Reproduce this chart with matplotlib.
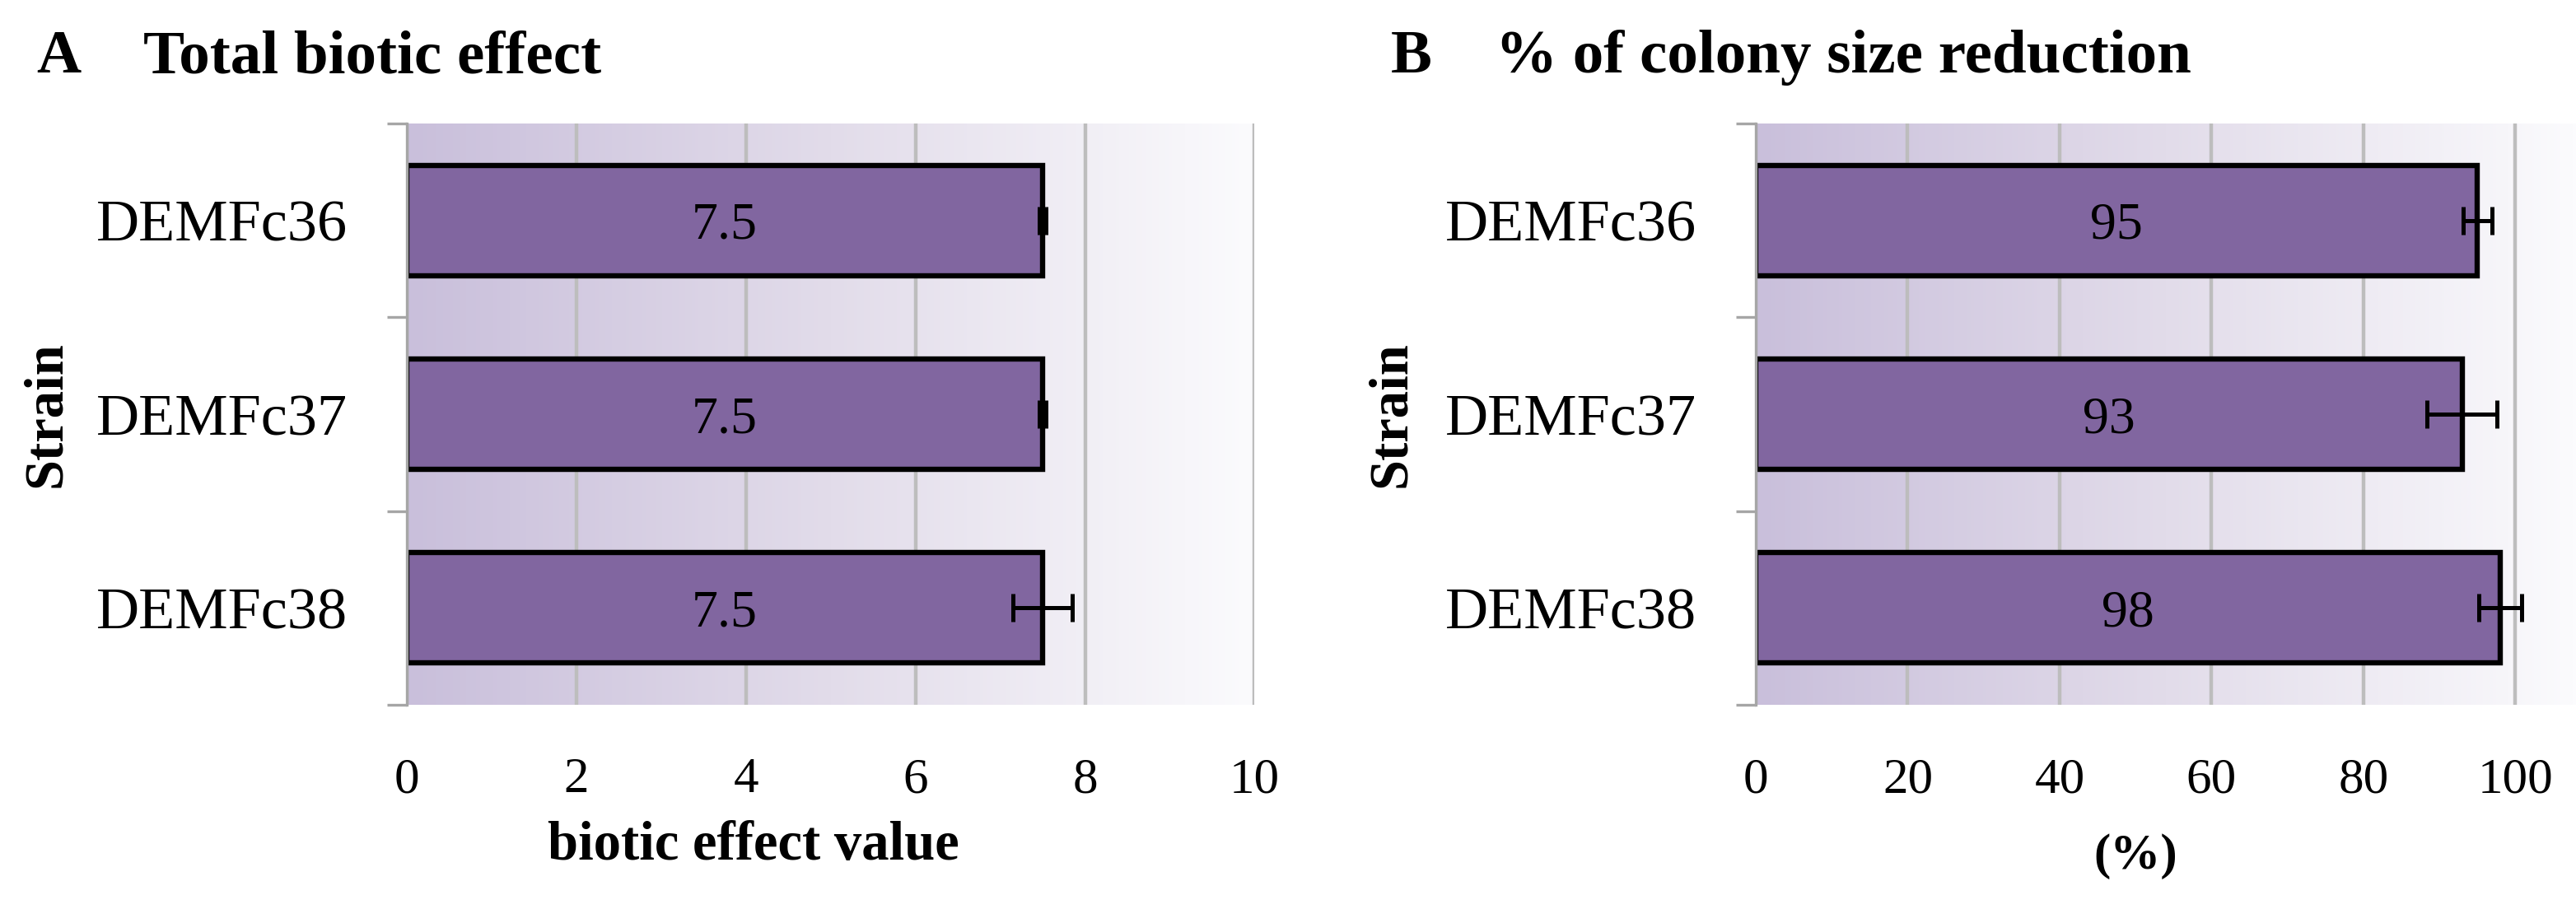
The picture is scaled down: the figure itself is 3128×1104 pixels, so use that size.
import numpy as np
import matplotlib
matplotlib.use("Agg")
import matplotlib.pyplot as plt
from matplotlib.colors import LinearSegmentedColormap

strains = ["DEMFc36", "DEMFc37", "DEMFc38"]
biotic = [7.5, 7.5, 7.5]
biotic_err = [0.04, 0.04, 0.35]
reduction = [95, 93, 98]
reduction_err = [1.9, 4.6, 2.8]

plt.rcParams["font.family"] = ["Liberation Serif", "DejaVu Serif"]

bar_col = "#8166a0"
grid_col = "#bdbdbd"
spine_col = "#a6a6a6"
bg = LinearSegmentedColormap.from_list("bg", ["#c9bfdb", "#e2dcea", "#fbfbfd"])

fig = plt.figure(figsize=(15.64, 5.52), dpi=200)


def panel(ax, vals, errs, xmax, ticks):
    grad = np.linspace(0, 1, 256).reshape(1, -1)
    ax.imshow(grad, extent=[0, xmax, 2.5, -0.5], aspect="auto", cmap=bg, zorder=0)
    y = np.arange(len(strains))
    ax.barh(y, vals, height=0.57, color=bar_col, edgecolor="black", linewidth=2.3, zorder=2)
    ax.errorbar(vals, y, xerr=errs, fmt="none", ecolor="black", elinewidth=1.8,
                capsize=6, capthick=1.8, zorder=3)
    for yi, v in zip(y, vals):
        ax.text(v / 2, yi, f"{v:g}", ha="center", va="center_baseline", fontsize=23, zorder=4)
    ax.set_xlim(0, xmax)
    ax.set_ylim(2.5, -0.5)
    ax.set_xticks(ticks)
    ax.set_xticklabels([str(t) for t in ticks], fontsize=22)
    ax.set_yticks(y)
    ax.set_yticklabels(strains, fontsize=26)
    ax.set_yticks([-0.5, 0.5, 1.5, 2.5], minor=True)
    ax.tick_params(axis="y", which="major", length=0, pad=26)
    ax.tick_params(axis="y", which="minor", length=8.6, width=1.2, color=spine_col)
    ax.tick_params(axis="x", length=0, pad=23)
    ax.xaxis.grid(True, color=grid_col, linewidth=1.6)
    ax.set_axisbelow(True)
    for s in ["top", "right", "bottom"]:
        ax.spines[s].set_visible(False)
    ax.spines["left"].set_color(spine_col)
    ax.spines["left"].set_linewidth(1.2)
    ax.spines["left"].set_zorder(5)


axA = fig.add_axes([0.158, 0.2246, 0.329, 0.6395])
panel(axA, biotic, biotic_err, 10, [0, 2, 4, 6, 8, 10])

axB = fig.add_axes([0.6816, 0.2246, 0.3184, 0.6395])
panel(axB, reduction, reduction_err, 108, [0, 20, 40, 60, 80, 100])

# titles
fig.text(0.014, 0.920, "A", fontsize=27, fontweight="bold", va="baseline")
fig.text(0.0556, 0.920, "Total biotic effect", fontsize=27, fontweight="bold", va="baseline")
fig.text(0.540, 0.920, "B", fontsize=27, fontweight="bold", va="baseline")
fig.text(0.5806, 0.920, "% of colony size reduction", fontsize=27, fontweight="bold", va="baseline")

# axis labels
fig.text(0.018, 0.544, "Strain", fontsize=24, fontweight="bold", rotation=90, ha="center", va="center")
fig.text(0.540, 0.544, "Strain", fontsize=24, fontweight="bold", rotation=90, ha="center", va="center")
fig.text(0.2925, 0.054, "biotic effect value", fontsize=24, fontweight="bold", ha="center", va="baseline")
fig.text(0.829, 0.058, "(%)", fontsize=22, fontweight="bold", ha="center", va="center")

fig.savefig("out.png", dpi=200)
